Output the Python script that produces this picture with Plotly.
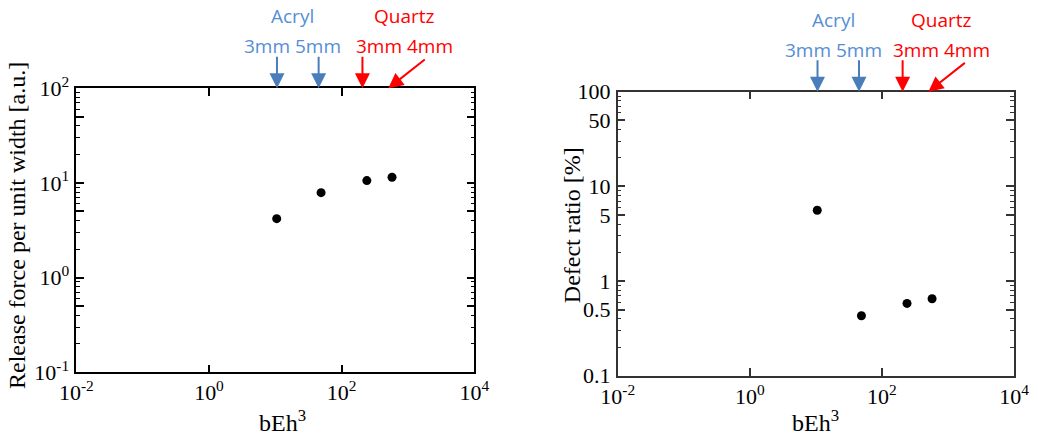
import math
import plotly.graph_objects as go

# ---- data ----
beh3 = [10.5, 49, 240, 575]
release_force = [4.2, 7.9, 10.6, 11.5]
defect_ratio = [5.6, 0.43, 0.58, 0.65]

acryl_arrow_x = [10.6, 45]
quartz_arrow_x = [206, 505]
acryl_labels = ["Acryl", "3mm 5mm"]
quartz_labels = ["Quartz", "3mm 4mm"]

x_tickvals = [0.01, 1, 100, 10000]
x_ticktext = ["10<sup>-2</sup>", "10<sup>0</sup>", "10<sup>2</sup>", "10<sup>4</sup>"]
y1_tickvals = [0.1, 0.5, 1, 5, 10, 50, 100]
y1_ticktext = ["10<sup>-1</sup>", "", "10<sup>0</sup>", "", "10<sup>1</sup>", "", "10<sup>2</sup>"]
y2_tickvals = [0.1, 0.5, 1, 5, 10, 50, 100]
y2_ticktext = ["0.1", "0.5", "1", "5", "10", "50", "100"]
y_minor_vals = [m * d for d in (0.1, 1, 10) for m in (2, 3, 4, 6, 7, 8, 9)]

SERIF = "Liberation Serif, Times New Roman, serif"
SANS = "Open Sans, Calibri, sans-serif"
BLUE_ARROW = "#4A7EBB"
BLUE_TEXT = "#558ED5"
RED = "#FF0000"

fig = go.Figure()
fig.add_trace(go.Scatter(x=beh3, y=release_force, mode="markers",
                         marker=dict(color="black", size=9), xaxis="x", yaxis="y",
                         showlegend=False))
fig.add_trace(go.Scatter(x=beh3, y=defect_ratio, mode="markers",
                         marker=dict(color="black", size=9), xaxis="x2", yaxis="y2",
                         showlegend=False))
# invisible companions so the minor-tick overlay axes get drawn
fig.add_trace(go.Scatter(x=beh3, y=release_force, mode="markers", opacity=0,
                         hoverinfo="skip", xaxis="x", yaxis="y3", showlegend=False))
fig.add_trace(go.Scatter(x=beh3, y=defect_ratio, mode="markers", opacity=0,
                         hoverinfo="skip", xaxis="x2", yaxis="y4", showlegend=False))

W, H = 1038, 438
D1Y = [1 - 372.3 / H, 1 - 88.3 / H]
D2Y = [1 - 375.7 / H, 1 - 91.7 / H]


def xaxis_cfg(domain, color):
    return dict(type="log", domain=domain, range=[-2, 4], automargin=False,
                tickmode="array", tickvals=x_tickvals, ticktext=x_ticktext,
                ticks="inside", ticklen=8, tickwidth=1.5, tickcolor=color,
                showline=True, linecolor=color, linewidth=1.5, mirror="ticks",
                showgrid=False, zeroline=False,
                tickfont=dict(family=SERIF, size=22, color="black"))


def yaxis_cfg(domain, color, tv, tt, anchor):
    return dict(type="log", domain=domain, range=[-1, 2], anchor=anchor, automargin=False,
                tickmode="array", tickvals=tv, ticktext=tt,
                ticks="inside", ticklen=8, tickwidth=1.5, tickcolor=color,
                showline=True, linecolor=color, linewidth=1.5, mirror="ticks",
                showgrid=False, zeroline=False, ticklabelstandoff=1,
                tickfont=dict(family=SERIF, size=22, color="black"))


def minor_cfg(domain, color, anchor, over):
    return dict(type="log", domain=domain, range=[-1, 2], anchor=anchor, overlaying=over,
                automargin=False, tickmode="array", tickvals=y_minor_vals,
                showticklabels=False, ticks="inside", ticklen=4, tickwidth=1.3,
                tickcolor=color, showline=True, linecolor=color, linewidth=1.5,
                mirror="ticks", showgrid=False, zeroline=False)


fig.update_layout(
    width=W, height=H, margin=dict(l=0, r=0, t=0, b=0, autoexpand=False),
    paper_bgcolor="white", plot_bgcolor="white",
    xaxis=xaxis_cfg([76.3 / W, 474.3 / W], "black") | dict(anchor="y"),
    yaxis=yaxis_cfg(D1Y, "black", y1_tickvals, y1_ticktext, "x"),
    xaxis2=xaxis_cfg([617.7 / W, 1014 / W], "#333333") | dict(anchor="y2"),
    yaxis2=yaxis_cfg(D2Y, "#333333", y2_tickvals, y2_ticktext, "x2"),
    yaxis3=minor_cfg(D1Y, "black", "x", "y"),
    yaxis4=minor_cfg(D2Y, "#333333", "x2", "y2"),
)

ann = []
for xr, yr, acx, qcx in [("x", "y", 1.265, 2.948), ("x2", "y2", 1.26, 2.90)]:
    for v in acryl_arrow_x:
        ann.append(dict(x=math.log10(v), y=2, xref=xr, yref=yr, showarrow=True,
                        ax=0, ay=-33, arrowhead=2, arrowsize=1.5, arrowwidth=2,
                        arrowcolor=BLUE_ARROW, standoff=0, text=""))
    for i, v in enumerate(quartz_arrow_x):
        axv, ayv = (0, -33) if i == 0 else (38, -30)
        ann.append(dict(x=math.log10(v), y=2, xref=xr, yref=yr, showarrow=True,
                        ax=axv, ay=ayv, arrowhead=2, arrowsize=1.5, arrowwidth=2,
                        arrowcolor=RED, standoff=0, text=""))
    for txt, ys in zip(acryl_labels, [72, 42]):
        ann.append(dict(x=acx, y=1, xref=xr, yref=yr + " domain", yshift=ys,
                        text=txt, showarrow=False, xanchor="center", yanchor="middle",
                        font=dict(family=SANS, size=19, color=BLUE_TEXT)))
    for txt, ys in zip(quartz_labels, [72, 42]):
        ann.append(dict(x=qcx, y=1, xref=xr, yref=yr + " domain", yshift=ys,
                        text=txt, showarrow=False, xanchor="center", yanchor="middle",
                        font=dict(family=SANS, size=19, color=RED)))

ann.append(dict(x=17 / W, y=1 - 226 / H, xref="paper", yref="paper", showarrow=False,
                xanchor="center", yanchor="middle",
                text="Release force per unit width [a.u.]", textangle=-90,
                font=dict(family=SERIF, size=24, color="black")))
ann.append(dict(x=571.7 / W, y=1 - 225.5 / H, xref="paper", yref="paper", showarrow=False,
                xanchor="center", yanchor="middle",
                text="Defect ratio [%]", textangle=-90,
                font=dict(family=SERIF, size=24, color="black")))
for cx in [282 / W, 815 / W]:
    ann.append(dict(x=cx, y=1 - 421 / H, xref="paper", yref="paper", showarrow=False,
                    text="bEh<sup>3</sup>", xanchor="center", yanchor="middle",
                    font=dict(family=SERIF, size=24, color="black")))

fig.update_layout(annotations=ann)
fig.write_html("out.html", config={"displayModeBar": False},
               post_script="document.body.style.margin='0';document.body.style.overflow='hidden';")
